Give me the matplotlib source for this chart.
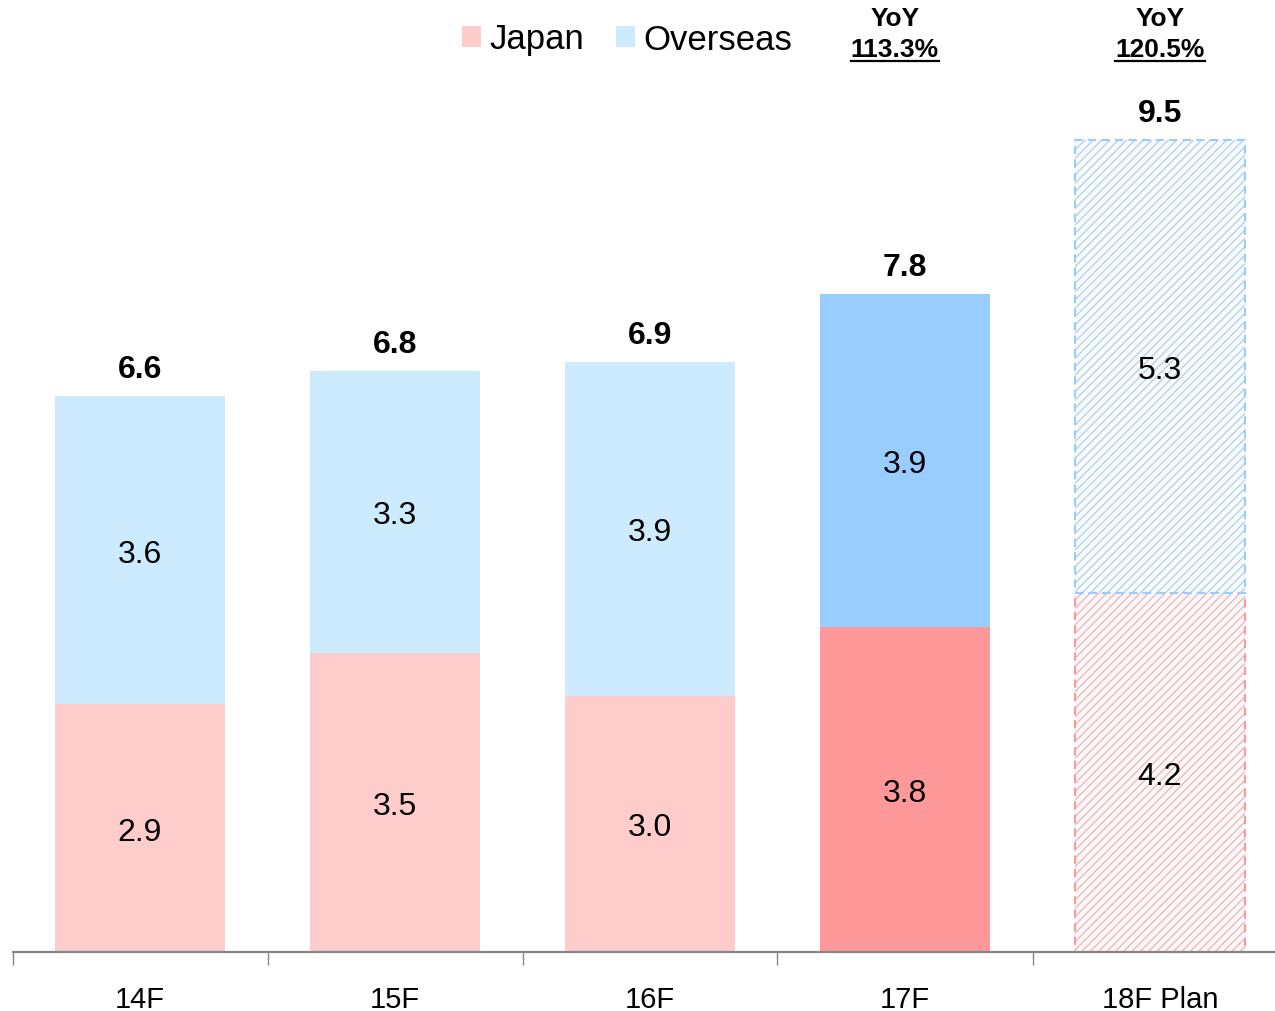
import matplotlib
matplotlib.use("Agg")
import matplotlib.pyplot as plt
import numpy as np
from matplotlib.patches import Patch
from matplotlib.lines import Line2D
import matplotlib.transforms as mtransforms

categories = ["14F", "15F", "16F", "17F", "18F Plan"]
japan = [2.9, 3.5, 3.0, 3.8, 4.2]
overseas = [3.6, 3.3, 3.9, 3.9, 5.3]
totals = [6.6, 6.8, 6.9, 7.8, 9.5]
yoy_labels = {3: "113.3%", 4: "120.5%"}

plt.rcParams['font.family'] = ['Liberation Sans', 'DejaVu Sans']
plt.rcParams['hatch.linewidth'] = 0.9

W, H = 1275, 1012
fig = plt.figure(figsize=(W/100, H/100), dpi=100)
base_px = 953
top_px = 100
ax = fig.add_axes([12.5/W, (H-base_px)/H, 1-12.5/W, (base_px-top_px)/H])
px_per_unit = 85.5
ax.set_ylim(0, (base_px-top_px)/px_per_unit)
ax.set_xlim(-0.5, (W-140)/255)

jap_light, ov_light = "#FFCCCC", "#CCEBFF"
jap_dark, ov_dark = "#FF9999", "#99CCFF"
width = 0.667
x = np.arange(len(categories))

for i in range(len(categories)):
    if i < 3:
        jc, oc = jap_light, ov_light
    else:
        jc, oc = jap_dark, ov_dark
    if i < 4:
        ax.bar(x[i], japan[i], width, color=jc, linewidth=0)
        ax.bar(x[i], overseas[i], width, bottom=japan[i], color=oc, linewidth=0)
    else:
        ax.bar(x[i], japan[i], width, color="#FFF8F8", edgecolor="#E8B4B8", hatch="////", linewidth=0)
        ax.bar(x[i], overseas[i], width, bottom=japan[i], color="#F6FBFF", edgecolor="#B4CDE0", hatch="////", linewidth=0)
        ax.bar(x[i], japan[i], width, fill=False, edgecolor=jap_dark, linewidth=1.5, linestyle=(0, (4, 2.5)))
        ax.bar(x[i], overseas[i], width, bottom=japan[i], fill=False, edgecolor=ov_dark, linewidth=1.5, linestyle=(0, (4, 2.5)))
    ax.text(x[i], japan[i]/2, f"{japan[i]:.1f}", ha="center", va="center_baseline", fontsize=23, color="black")
    ax.text(x[i], japan[i] + overseas[i]/2, f"{overseas[i]:.1f}", ha="center", va="center_baseline", fontsize=23, color="black")
    ax.annotate(f"{totals[i]:.1f}", (x[i], japan[i] + overseas[i]), xytext=(0, 22), textcoords="offset points",
                ha="center", va="center_baseline", fontsize=23, fontweight="bold")

for s in ["left", "right", "top"]:
    ax.spines[s].set_visible(False)
ax.spines["bottom"].set_color("#868686")
ax.spines["bottom"].set_linewidth(1.6)
ax.set_yticks([])
ax.set_xticks(x)
ax.set_xticklabels(categories, fontsize=21)
ax.tick_params(axis="x", which="major", length=0, pad=24)
ax.set_xticks(np.arange(-0.5, len(categories)-0.5, 1.0), minor=True)
ax.tick_params(axis="x", which="minor", length=9, width=1.0, color="#868686", direction="out")

handles = [Patch(facecolor=jap_light, edgecolor="none"), Patch(facecolor=ov_light, edgecolor="none")]
fig.legend(handles, ["Japan", "Overseas"], loc="center", bbox_to_anchor=(627/W, 1-40/H), ncol=2,
           frameon=False, fontsize=25, handlelength=0.55, handleheight=0.55, handletextpad=0.25,
           columnspacing=0.9, borderpad=0.1)

trans = mtransforms.blended_transform_factory(ax.transData, fig.transFigure)
yoy_offsets = {3: -0.04, 4: 0.0}
texts = []
for i, lab in yoy_labels.items():
    xp = x[i] + yoy_offsets[i]
    ax.text(xp, 1-19/H, "YoY", transform=trans, ha="center", va="center", fontsize=19, fontweight="bold")
    t = ax.text(xp, 1-50/H, lab, transform=trans, ha="center", va="center", fontsize=19, fontweight="bold")
    texts.append(t)

fig.canvas.draw()
r = fig.canvas.get_renderer()
for t in texts:
    bb = t.get_window_extent(renderer=r)
    yline = bb.y0
    fig.add_artist(Line2D([bb.x0/W, bb.x1/W], [yline/H, yline/H], color="black", linewidth=1.6,
                          transform=fig.transFigure))

fig.savefig("out.png", dpi=100)
